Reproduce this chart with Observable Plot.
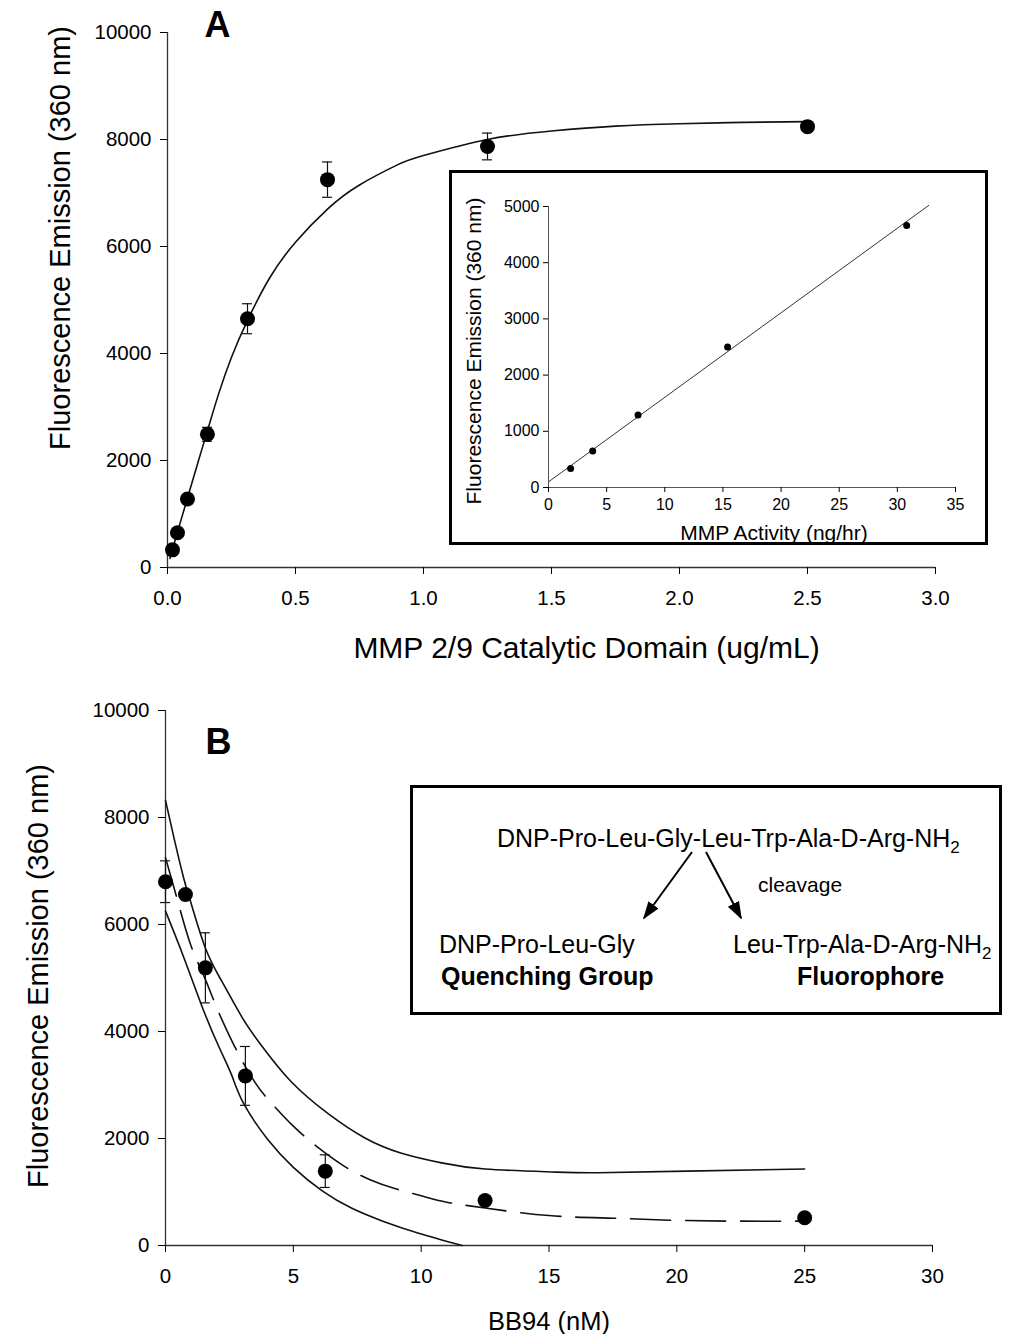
<!DOCTYPE html>
<html><head><meta charset="utf-8">
<script src="https://cdn.jsdelivr.net/npm/d3@7"></script>
<script src="https://cdn.jsdelivr.net/npm/@observablehq/plot@0.6"></script>
<style>
body{margin:0;background:#fff;font-family:"Liberation Sans",Arial,sans-serif;}
#wrap{position:relative;width:1014px;height:1334px;overflow:hidden;background:#fff}
.box{position:absolute;border:3px solid #000;box-sizing:border-box;background:#fff}
.diag{position:absolute;white-space:nowrap;color:#000;line-height:1;font-size:25px}
</style></head><body><div id="wrap"></div>
<script>
// ---------- Panel A data ----------
const aConc  = [0.0195, 0.039, 0.078, 0.156, 0.3125, 0.625, 1.25, 2.5];
const aFluor = [330, 650, 1280, 2490, 4650, 7250, 7870, 8240];
const aErr   = [0, 0, 0, 130, 280, 330, 250, 0];
const aFitX  = [0.01, 0.02, 0.04, 0.08, 0.12, 0.16, 0.2, 0.25, 0.3125, 0.4, 0.5, 0.625, 0.75, 0.9, 1.0, 1.25, 1.5, 1.75, 2.0, 2.25, 2.5];
const aFitY  = [170, 340, 680, 1330, 1980, 2620, 3250, 3930, 4620, 5420, 6080, 6700, 7150, 7530, 7700, 8000, 8160, 8250, 8295, 8320, 8335];
const aXTicks = [0, 0.5, 1.0, 1.5, 2.0, 2.5, 3.0];
const aYTicks = [0, 2000, 4000, 6000, 8000, 10000];

// ---------- Inset A data ----------
const iAct   = [1.9, 3.8, 7.7, 15.4, 30.8];
const iFluor = [340, 650, 1290, 2500, 4660];
const iLineX = [0, 32.7];
const iLineY = [100, 5020];
const iXTicks = [0, 5, 10, 15, 20, 25, 30, 35];
const iYTicks = [0, 1000, 2000, 3000, 4000, 5000];

// ---------- Panel B data ----------
const bConc  = [0, 0.78, 1.56, 3.125, 6.25, 12.5, 25];
const bFluor = [6800, 6560, 5190, 3170, 1390, 840, 520];
const bErr   = [390, 0, 655, 550, 305, 0, 0];
const bUpX   = [0, 0.34, 0.72, 0.98, 1.56, 2.2, 3.0, 3.72, 4.9, 6.4, 7.8, 9.2, 10.8, 12.5, 15.1, 16.9, 20.4, 25];
const bUpY   = [8320, 7600, 6850, 6430, 5560, 4940, 4260, 3760, 3070, 2450, 2010, 1730, 1545, 1430, 1375, 1360, 1390, 1430];
const bMidX  = [0, 0.5, 1, 1.5, 2, 2.5, 3, 3.5, 4, 5, 6, 7, 8, 9, 10, 11, 12.5, 15, 17.5, 20, 22.5, 25];
const bMidY  = [7250, 6400, 5600, 5040, 4450, 3920, 3450, 3050, 2740, 2230, 1820, 1480, 1230, 1060, 930, 810, 700, 560, 510, 470, 455, 455];
const bLoX   = [0, 0.72, 1.5, 2.15, 2.6, 3.06, 4.0, 5.0, 6.13, 7.27, 8.5, 9.9, 11.6];
const bLoY   = [6250, 5380, 4380, 3650, 3170, 2650, 1980, 1460, 1020, 700, 455, 230, 0];
const bXTicks = [0, 5, 10, 15, 20, 25, 30];
const bYTicks = [0, 2000, 4000, 6000, 8000, 10000];

// ---------- text ----------
const yTitle = "Fluorescence Emission (360 nm)";
const aXTitle = "MMP 2/9 Catalytic Domain (ug/mL)";
const iXTitle = "MMP Activity (ng/hr)";
const bXTitle = "BB94 (nM)";

const ff = "'Liberation Sans', Arial, sans-serif";
const wrap = document.getElementById("wrap");
function place(el, left, top){
  el.style.position = "absolute"; el.style.left = left + "px"; el.style.top = top + "px";
  wrap.appendChild(el);
}
const ink = "#111";
const txt = (s, o) => Plot.text([s], {text: d => d, fill: "#000", lineAnchor: "middle", textAnchor: "middle", ...o});

// ---------- Panel A ----------
const ptsA = aConc.map((x, i) => ({x, y: aFluor[i], e: aErr[i]}));
const errA = ptsA.filter(d => d.e > 0);
const fitA = aFitX.map((x, i) => ({x, y: aFitY[i]}));
const plotA = Plot.plot({
  width: 1014, height: 680,
  marginLeft: 167, marginRight: 79, marginTop: 32, marginBottom: 113,
  style: {fontFamily: ff, background: "transparent", overflow: "visible", color: "#000"},
  x: {domain: [0, 3]}, y: {domain: [0, 10000]},
  marks: [
    Plot.ruleX([0], {stroke: "#333", strokeWidth: 1.3}),
    Plot.ruleY([0], {stroke: "#333", strokeWidth: 1.3}),
    Plot.axisX({ticks: aXTicks, tickFormat: d3.format(".1f"), tickSize: 7, tickPadding: 16, fontSize: 20.5, label: null}),
    Plot.axisY({ticks: aYTicks, tickFormat: d3.format("d"), tickSize: 7, tickPadding: 9, fontSize: 20.5, label: null}),
    txt(aXTitle, {frameAnchor: "bottom", dx: 35, dy: 81, fontSize: 30}),
    txt(yTitle, {frameAnchor: "left", rotate: -90, dx: -107, dy: -62, fontSize: 29}),
    Plot.line(fitA, {x: "x", y: "y", curve: "natural", stroke: ink, strokeWidth: 1.6}),
    Plot.ruleX(errA, {x: "x", y1: d => d.y - d.e, y2: d => d.y + d.e, stroke: ink, strokeWidth: 1.2}),
    Plot.ruleY(errA, {y: d => d.y + d.e, x1: "x", x2: "x", insetLeft: -5, insetRight: -5, stroke: ink, strokeWidth: 1.2}),
    Plot.ruleY(errA, {y: d => d.y - d.e, x1: "x", x2: "x", insetLeft: -5, insetRight: -5, stroke: ink, strokeWidth: 1.2}),
    Plot.dot(ptsA, {x: "x", y: "y", r: 7.5, fill: "#000"}),
    txt("A", {frameAnchor: "top-left", dx: 50, dy: -7, fontSize: 36, fontWeight: "bold"})
  ]
});
place(plotA, 0, 0);

// ---------- Inset A ----------
const boxA = document.createElement("div"); boxA.className = "box";
boxA.style.left = "449px"; boxA.style.top = "170px"; boxA.style.width = "539px"; boxA.style.height = "375px";
wrap.appendChild(boxA);
const ptsI = iAct.map((x, i) => ({x, y: iFluor[i]}));
const lineI = iLineX.map((x, i) => ({x, y: iLineY[i]}));
const plotI = Plot.plot({
  width: 539, height: 375,
  marginLeft: 99, marginRight: 33, marginTop: 36, marginBottom: 58,
  style: {fontFamily: ff, background: "transparent", overflow: "visible", color: "#000"},
  x: {domain: [0, 35]}, y: {domain: [0, 5000]},
  marks: [
    Plot.ruleX([0], {stroke: "#555"}),
    Plot.ruleY([0], {stroke: "#555"}),
    Plot.axisX({ticks: iXTicks, tickFormat: d3.format("d"), tickSize: 5, tickPadding: 6, fontSize: 16, label: null}),
    Plot.axisY({ticks: iYTicks, tickFormat: d3.format("d"), tickSize: 5, tickPadding: 4, fontSize: 16, label: null}),
    txt(iXTitle, {frameAnchor: "bottom", dx: 22, dy: 46, fontSize: 21}),
    txt(yTitle, {frameAnchor: "left", rotate: -90, dx: -74, dy: 4, fontSize: 21}),
    Plot.line(lineI, {x: "x", y: "y", stroke: "#333", strokeWidth: 1}),
    Plot.dot(ptsI, {x: "x", y: "y", r: 3.5, fill: "#000"})
  ]
});
place(plotI, 449, 170);

// ---------- Panel B ----------
const ptsB = bConc.map((x, i) => ({x, y: bFluor[i], e: bErr[i]}));
const errB = ptsB.filter(d => d.e > 0);
const up = bUpX.map((x, i) => ({x, y: bUpY[i]}));
const mid = bMidX.map((x, i) => ({x, y: bMidY[i]}));
const lo = bLoX.map((x, i) => ({x, y: bLoY[i]}));
const plotB = Plot.plot({
  width: 1014, height: 654,
  marginLeft: 165, marginRight: 82, marginTop: 30, marginBottom: 89,
  style: {fontFamily: ff, background: "transparent", overflow: "visible", color: "#000"},
  x: {domain: [0, 30]}, y: {domain: [0, 10000]},
  marks: [
    Plot.ruleX([0], {stroke: "#333", strokeWidth: 1.3}),
    Plot.ruleY([0], {stroke: "#333", strokeWidth: 1.3}),
    Plot.axisX({ticks: bXTicks, tickFormat: d3.format("d"), tickSize: 7, tickPadding: 16, fontSize: 20.5, label: null}),
    Plot.axisY({ticks: bYTicks, tickFormat: d3.format("d"), tickSize: 7, tickPadding: 9, fontSize: 20.5, label: null}),
    txt(bXTitle, {frameAnchor: "bottom", dy: 76, fontSize: 25.5}),
    txt(yTitle, {frameAnchor: "left", rotate: -90, dx: -127, dy: -2, fontSize: 29}),
    Plot.line(up, {x: "x", y: "y", curve: "natural", stroke: ink, strokeWidth: 1.6}),
    Plot.line(lo, {x: "x", y: "y", curve: "natural", stroke: ink, strokeWidth: 1.6}),
    Plot.line(mid, {x: "x", y: "y", curve: "natural", stroke: ink, strokeWidth: 1.6, strokeDasharray: "40,15"}),
    Plot.ruleX(errB, {x: "x", y1: d => d.y - d.e, y2: d => d.y + d.e, stroke: ink, strokeWidth: 1.2}),
    Plot.ruleY(errB, {y: d => d.y + d.e, x1: "x", x2: "x", insetLeft: -5, insetRight: -5, stroke: ink, strokeWidth: 1.2}),
    Plot.ruleY(errB, {y: d => d.y - d.e, x1: "x", x2: "x", insetLeft: -5, insetRight: -5, stroke: ink, strokeWidth: 1.2}),
    Plot.dot(ptsB, {x: "x", y: "y", r: 7.5, fill: "#000"}),
    txt("B", {frameAnchor: "top-left", dx: 53, dy: 32, fontSize: 36, fontWeight: "bold"})
  ]
});
place(plotB, 0, 680);

// ---------- Inset B (reaction diagram) ----------
const boxB = document.createElement("div"); boxB.className = "box";
boxB.style.left = "410px"; boxB.style.top = "785px"; boxB.style.width = "592px"; boxB.style.height = "230px";
boxB.innerHTML = `
  <div class="diag" style="left:84px;top:38px">DNP-Pro-Leu-Gly-Leu-Trp-Ala-D-Arg-NH<sub style="font-size:17px">2</sub></div>
  <div class="diag" style="left:345px;top:86px;font-size:21px">cleavage</div>
  <div class="diag" style="left:26px;top:144px">DNP-Pro-Leu-Gly</div>
  <div class="diag" style="left:320px;top:144px">Leu-Trp-Ala-D-Arg-NH<sub style="font-size:17px">2</sub></div>
  <div class="diag" style="left:28px;top:176px;font-weight:bold">Quenching Group</div>
  <div class="diag" style="left:384px;top:176px;font-weight:bold">Fluorophore</div>
  <svg width="592" height="230" style="position:absolute;left:-3px;top:-3px;overflow:visible">
    <defs><marker id="ah" viewBox="0 0 10 10" refX="9" refY="5" markerWidth="9" markerHeight="9" orient="auto">
      <path d="M0,1.5 L10,5 L0,8.5 z" fill="#000"/></marker></defs>
    <line x1="282" y1="67" x2="234" y2="133" stroke="#000" stroke-width="2" marker-end="url(#ah)"/>
    <line x1="296" y1="67" x2="331" y2="133" stroke="#000" stroke-width="2" marker-end="url(#ah)"/>
  </svg>`;
wrap.appendChild(boxB);
</script></body></html>
